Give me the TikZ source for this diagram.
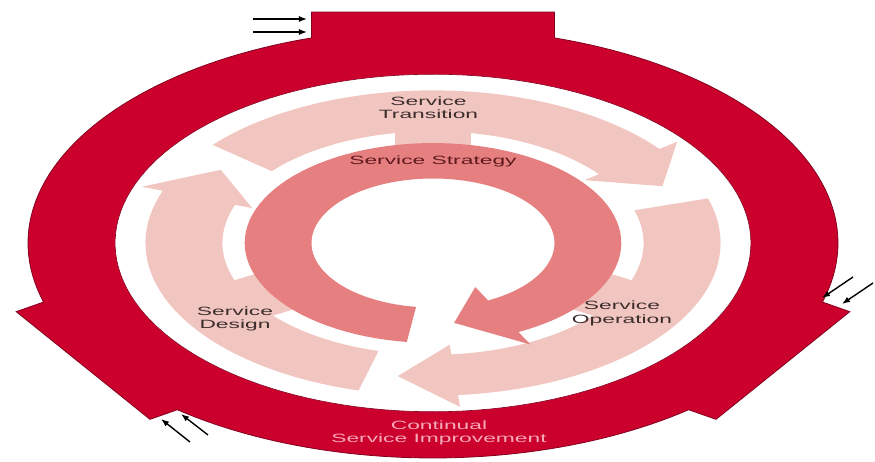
\documentclass[tikz,border=0pt]{standalone}
\usepackage{fontspec}
\setmainfont{Liberation Sans}
\usepackage{graphicx}
\usetikzlibrary{calc,arrows.meta}
\definecolor{cRed}{RGB}{204,0,45}
\definecolor{cRedDark}{RGB}{130,0,30}
\definecolor{cPale}{RGB}{242,198,192}
\definecolor{cStrat}{RGB}{230,128,128}
\definecolor{cTxt}{RGB}{60,45,45}
\definecolor{cStratTxt}{RGB}{95,25,30}
\definecolor{cCsiTxt}{RGB}{247,170,185}
\newcommand{\wtxt}[1]{\scalebox{1.9}[1]{#1}}
\tikzset{
  ringred/.style={fill=cRed, draw=cRedDark, line width=0.8pt, line join=miter},
  innerhole/.style={fill=white, draw=cRedDark, line width=0.6pt},
  palearrow/.style={fill=cPale},
  stratarrow/.style={fill=cStrat},
  lbl/.style={font=\fontsize{12}{13.5}\selectfont, align=center, text=cTxt, inner sep=0pt},
  blk/.style={draw=black, line width=1.4pt, -{Latex[length=8pt,width=6pt]}}
}
\begin{document}
\begin{tikzpicture}[x=405pt, y=215pt]
\useasboundingbox (-433pt,-219pt) rectangle (442pt,243pt);

% outer CSI ring with three tabs
\path[ringred] plot[domain=-15.94:72.54,samples=50] (\x:1)
  -- (0.3,1.074) -- (-0.3,1.074)
  -- plot[domain=107.46:195.94,samples=50] (\x:1)
  -- (-1.0291,-0.3194) -- (-0.6989,-0.8202)
  -- plot[domain=230.86:309.14,samples=50] (\x:1)
  -- (0.6989,-0.8202) -- (1.0291,-0.3194) -- cycle;
\path[innerhole] plot[domain=0:360,samples=150] (\x:0.785) -- cycle;

% stems linking the three arrows to the strategy ring
\foreach \t in {90,210,330}{
  \fill[palearrow] ($(\t:0.44)+(\t-90:0.095)$) -- ($(\t:0.55)+(\t-90:0.095)$)
    -- ($(\t:0.55)+(\t+90:0.095)$) -- ($(\t:0.44)+(\t+90:0.095)$) -- cycle;
}

% Service Design arrow
\fill[palearrow] plot[domain=255:160,samples=50] (\x:0.71) -- (160:0.765) -- (147:0.625)
  -- (160:0.475) -- plot[domain=160:255,samples=50] (\x:0.52) -- cycle;
% Service Transition arrow
\fill[palearrow] plot[domain=140:38,samples=50] (\x:0.71) -- (38:0.765) -- (25:0.625)
  -- (38:0.475) -- plot[domain=38:140,samples=50] (\x:0.52) -- cycle;
% Service Operation arrow
\fill[palearrow] plot[domain=17:-85,samples=50] (\x:0.71) -- (-85:0.765) -- (-98:0.625)
  -- (-85:0.475) -- plot[domain=-85:17,samples=50] (\x:0.52) -- cycle;

% Service Strategy arrow
\fill[stratarrow] plot[domain=262:-63,samples=100] (\x:0.465) -- (-63:0.53) -- (-82:0.375)
  -- (-63:0.23) -- plot[domain=-63:262,samples=100] (\x:0.30) -- cycle;

% labels
\node[lbl] (tST) at (-4.5pt,135.5pt) {\wtxt{Service}\\\wtxt{Transition}};
\node[lbl, text=cStratTxt] (tSS) at (0pt,82pt) {\wtxt{Service Strategy}};
\node[lbl] (tSD) at (-198pt,-76pt) {\wtxt{Service}\\\wtxt{Design}};
\node[lbl] (tSO) at (189pt,-70.5pt) {\wtxt{Service}\\\wtxt{Operation}};
\node[lbl, text=cCsiTxt] (tCSI) at (6pt,-190pt) {\wtxt{Continual}\\\wtxt{Service Improvement}};

% rotation arrows
\coordinate (a1s) at (-180pt,224pt); \coordinate (a1e) at (-126pt,224pt);
\coordinate (a2s) at (-180pt,211pt); \coordinate (a2e) at (-126pt,211pt);
\coordinate (b1s) at (420pt,-34pt);  \coordinate (b1e) at (389pt,-55pt);
\coordinate (b2s) at (440pt,-40pt);  \coordinate (b2e) at (409pt,-61pt);
\coordinate (c1s) at (-243pt,-199pt); \coordinate (c1e) at (-272pt,-176pt);
\coordinate (c2s) at (-225pt,-192pt); \coordinate (c2e) at (-252pt,-171pt);
\draw[blk] (a1s) -- (a1e);
\draw[blk] (a2s) -- (a2e);
\draw[blk] (b1s) -- (b1e);
\draw[blk] (b2s) -- (b2e);
\draw[blk] (c1s) -- (c1e);
\draw[blk] (c2s) -- (c2e);
\end{tikzpicture}
\end{document}
